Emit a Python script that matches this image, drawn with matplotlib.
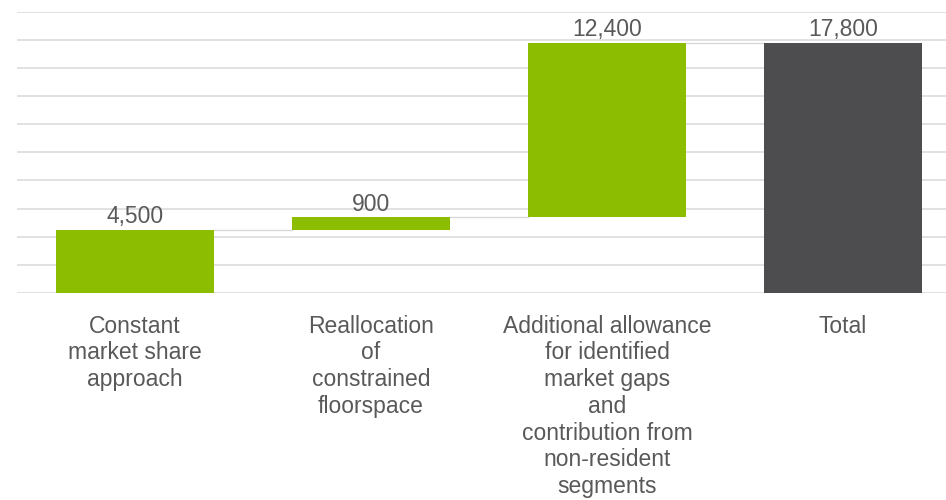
import matplotlib
matplotlib.use("Agg")
import matplotlib.pyplot as plt
import numpy as np

# data
categories = ["Constant\nmarket share\napproach",
              "Reallocation\nof\nconstrained\nfloorspace",
              "Additional allowance\nfor identified\nmarket gaps\nand\ncontribution from\nnon-resident\nsegments",
              "Total"]
steps = [4500, 900, 12400]
total = 17800
value_labels = ["4,500", "900", "12,400", "17,800"]

green = "#8CBD00"
dark = "#4D4D4F"
grid_col = "#D9D9D9"
text_col = "#595959"

plt.rcParams['font.family'] = ['Liberation Sans', 'DejaVu Sans']

# waterfall bottoms / heights
bottoms = list(np.cumsum([0] + steps[:-1])) + [0]
heights = steps + [total]
tops = [b + h for b, h in zip(bottoms, heights)]
colors = [green, green, green, dark]
x = np.arange(len(categories))
width = 0.67

fig = plt.figure(figsize=(9.46, 5.0), dpi=100)
ax = fig.add_axes([17 / 946, 1 - 293 / 500, 1 - 17 / 946, (293 - 11.7) / 500])

ax.bar(x, heights, width, bottom=bottoms, color=colors, zorder=3)

# connector lines between bars
for i in range(len(x) - 1):
    ax.plot([x[i] + width / 2, x[i + 1] - width / 2], [tops[i], tops[i]],
            color=grid_col, linewidth=1.0, zorder=2)

# value labels
for i in range(len(x)):
    ax.annotate(value_labels[i], (x[i], tops[i]), xytext=(0, 1),
                textcoords="offset points", ha="center", va="bottom",
                fontsize=16.5, color=text_col)

# grid
ax.set_ylim(0, 20000)
ax.set_yticks(np.arange(0, 20001, 2000))
ax.yaxis.grid(True, color=grid_col, linewidth=1.1, zorder=0)
ax.set_axisbelow(True)
ax.tick_params(axis="y", left=False, labelleft=False)
ax.set_xlim(-0.5, (946 - 17) / 236 - 0.5)
ax.set_xticks(x)
ax.set_xticklabels(categories, fontsize=16.5, color=text_col, linespacing=1.21)
ax.tick_params(axis="x", bottom=False, pad=12)
for s in ax.spines.values():
    s.set_visible(False)

plt.savefig("out.png", dpi=100)
